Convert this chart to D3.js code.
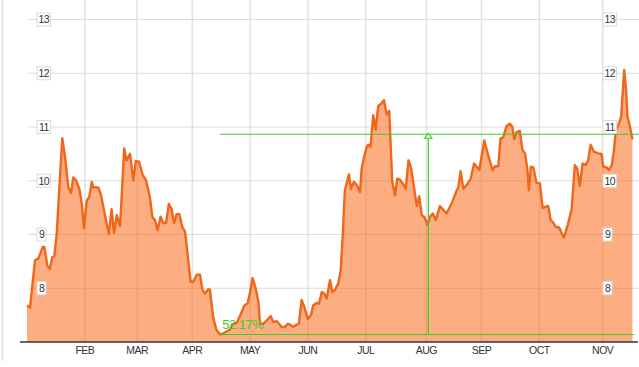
<!DOCTYPE html>
<html><head><meta charset="utf-8">
<script src="https://cdn.jsdelivr.net/npm/d3@7"></script>
<style>html,body{margin:0;padding:0;background:#fff;overflow:hidden}</style>
</head><body><svg id="c" width="639" height="367"></svg>
<script>
// trading-day index (from first data point) and closing price
const days = [0,1.1,2.9,4.1,5.7,6.3,7.4,8.3,9.2,9.9,10.8,12.8,13.8,15.0,16.0,16.8,17.8,19.0,19.9,20.7,21.7,22.6,23.5,24.1,25.0,25.9,26.9,28.3,29.7,30.7,31.6,32.6,33.8,35.3,36.1,37.4,38.6,39.5,40.7,41.9,43.2,44.6,45.5,46.5,47.4,48.5,49.5,50.5,51.5,52.5,53.4,54.3,55.3,56.4,57.4,58.3,59.4,60.4,61.6,62.8,63.7,64.6,65.8,66.4,67.6,68.6,69.4,70.3,71.3,72.5,73.7,74.5,76.1,77.7,78.9,80.1,80.9,81.9,83.0,84.0,84.6,85.8,87.0,88.5,89.4,90.6,91.5,92.4,93.6,94.8,95.8,96.7,97.5,98.7,99.7,100.7,101.9,103.1,103.9,105.2,106.0,107.0,107.9,108.8,110.0,110.8,111.8,113.0,113.9,114.6,115.4,116.9,117.6,118.7,119.7,120.9,121.5,122.3,123.3,123.9,124.7,125.7,126.6,127.5,128.7,129.6,130.6,131.5,132.6,133.6,134.4,135.4,136.4,137.5,138.5,139.4,140.5,141.5,142.4,143.3,144.2,145.4,146.3,147.3,148.4,149.9,151.1,152.3,154.2,156.0,156.6,157.4,158.4,159.6,161.1,162.3,164.2,166.0,167.4,169.0,169.9,171.1,171.9,172.9,174.1,175.3,176.2,176.9,177.7,178.9,179.9,180.8,181.6,182.2,182.9,183.8,185.0,186.2,187.2,188.4,189.2,190.1,191.0,192.0,193.2,194.9,196.3,197.7,198.9,199.7,200.7,201.7,202.9,203.7,204.6,205.8,207.4,208.6,209.2,210.4,211.3,212.3,213.1,213.7,214.7,215.7,216.8,217.5,218.0,218.9,219.8];
const prices = [7.68,7.64,8.52,8.55,8.77,8.77,8.42,8.36,8.58,8.59,9.02,10.79,10.45,9.88,9.77,10.06,10.01,9.85,9.57,9.12,9.63,9.70,9.98,9.87,9.88,9.87,9.73,9.36,9.01,9.47,9.03,9.36,9.16,10.60,10.38,10.50,10.01,10.37,10.35,10.12,10.01,9.70,9.33,9.26,9.08,9.33,9.21,9.22,9.57,9.47,9.21,9.38,9.38,9.14,9.05,8.64,8.12,8.12,8.25,8.25,7.97,7.90,7.98,7.98,7.46,7.25,7.18,7.14,7.16,7.20,7.23,7.33,7.35,7.53,7.68,7.72,7.90,8.19,8.00,7.75,7.34,7.34,7.40,7.48,7.37,7.39,7.34,7.28,7.28,7.34,7.31,7.28,7.31,7.34,7.78,7.65,7.43,7.50,7.68,7.73,7.71,7.93,7.90,7.81,8.15,7.93,7.97,8.09,8.34,8.96,9.82,10.12,9.85,9.98,9.92,9.79,10.23,10.42,10.63,10.67,10.63,11.22,10.95,11.39,11.44,11.50,11.23,11.30,9.98,9.73,10.04,10.02,9.95,9.85,10.38,10.25,9.88,9.53,9.71,9.36,9.33,9.18,9.33,9.39,9.27,9.53,9.46,9.39,9.58,9.82,9.88,10.18,9.85,9.92,10.04,10.32,10.20,10.75,10.48,10.20,10.27,10.27,10.79,10.81,11.02,11.06,11.01,10.77,10.90,10.93,10.57,10.51,10.23,9.82,10.26,10.25,9.96,9.95,9.49,9.52,9.53,9.27,9.22,9.14,9.13,8.94,9.18,9.46,10.29,10.23,9.90,10.32,10.29,10.38,10.67,10.54,10.51,10.50,10.26,10.25,10.20,10.29,10.57,10.92,11.04,11.19,12.06,11.69,11.19,11.01,10.77];
const yTicks = [8, 9, 10, 11, 12, 13];
const months = ["FEB","MAR","APR","MAY","JUN","JUL","AUG","SEP","OCT","NOV"];
const monthStarts = [21, 40, 60, 81, 102, 123, 145, 165, 186, 209];
const lowDay = 70.3, lowPrice = 7.14, gainPct = 52.17, markDay = 145.7;

const W = 639, H = 367;
const svg = d3.select("#c");
const x = d3.scaleLinear().domain([0, 220]).range([27, 633]);
const y = d3.scaleLinear().domain([7, 13]).range([342, 19.5]);
const font = "'Liberation Sans', Arial, sans-serif";
const data = days.map((d, i) => ({d, p: prices[i]}));

// left border
svg.append("line").attr("x1", 2.5).attr("x2", 2.5).attr("y1", 0).attr("y2", 361)
  .attr("stroke", "#dedede").attr("stroke-width", 1.5);

// vertical gridlines
svg.append("g").selectAll("line").data(monthStarts).join("line")
  .attr("x1", d => x(d)).attr("x2", d => x(d)).attr("y1", 0).attr("y2", 342)
  .attr("stroke", "#e3e3e3").attr("stroke-width", 1.5);
// horizontal gridlines
svg.append("g").selectAll("line").data(yTicks).join("line")
  .attr("x1", 28).attr("x2", W).attr("y1", d => y(d)).attr("y2", d => y(d))
  .attr("stroke", "#dcdcdc").attr("stroke-width", 1);

// area + line
svg.append("path").datum(data)
  .attr("d", d3.area().x(d => x(d.d)).y0(y(7)).y1(d => y(d.p)))
  .attr("fill", "#f96a1a").attr("fill-opacity", 0.55);
svg.append("path").datum(data)
  .attr("d", d3.line().x(d => x(d.d)).y(d => y(d.p)))
  .attr("fill", "none").attr("stroke", "#f0661a").attr("stroke-width", 2.4)
  .attr("stroke-linejoin", "round");

// bottom axis
svg.append("line").attr("x1", 20).attr("x2", 638).attr("y1", 342).attr("y2", 342)
  .attr("stroke", "#333").attr("stroke-width", 1.5);
svg.append("g").selectAll("text").data(months).join("text")
  .attr("x", (d, i) => x(monthStarts[i])).attr("y", 354)
  .attr("text-anchor", "middle").attr("font-family", font).attr("font-size", 10.5)
  .attr("letter-spacing", -0.5).attr("fill", "#333").text(d => d);

// annotation
const green = "#3ccc28";
const highPrice = lowPrice * (1 + gainPct / 100);
const ann = svg.append("g");
ann.append("line").attr("x1", x(lowDay) - 0.5).attr("x2", W).attr("y1", y(highPrice)).attr("y2", y(highPrice))
  .attr("stroke", green).attr("stroke-width", 1.2);
ann.append("line").attr("x1", x(lowDay) - 0.5).attr("x2", x(220) + 1).attr("y1", y(lowPrice)).attr("y2", y(lowPrice))
  .attr("stroke", green).attr("stroke-width", 1.2);
ann.append("line").attr("x1", x(markDay)).attr("x2", x(markDay)).attr("y1", y(lowPrice)).attr("y2", y(highPrice) + 4)
  .attr("stroke", green).attr("stroke-width", 1.2);
const ax = x(markDay), ay = y(highPrice);
ann.append("path").attr("d", `M${ax},${ay - 1}L${ax + 3.5},${ay + 4}L${ax - 3.5},${ay + 4}Z`)
  .attr("fill", "#fff").attr("stroke", green).attr("stroke-width", 1.2);
ann.append("text").attr("x", x(lowDay) + 1.5).attr("y", y(lowPrice) - 5)
  .attr("font-family", font).attr("font-size", 13).attr("letter-spacing", -0.5).attr("fill", green)
  .text(gainPct.toFixed(2) + "%");

// y labels (left and right)
function labels(x0) {
  const g = svg.append("g");
  yTicks.forEach(t => {
    const txt = String(t);
    const w = txt.length * 4.6 + 4.4;
    g.append("rect").attr("x", x0).attr("y", y(t) - 6.5).attr("width", w).attr("height", 13)
      .attr("fill", "#fff").attr("stroke", "#dadada").attr("stroke-width", 1);
    g.append("text").attr("x", x0 + w / 2).attr("y", y(t) + 3.8)
      .attr("text-anchor", "middle").attr("font-family", font).attr("font-size", 10.5)
      .attr("letter-spacing", -0.6).attr("fill", "#333").text(txt);
  });
}
labels(37);
labels(603);
</script></body></html>
